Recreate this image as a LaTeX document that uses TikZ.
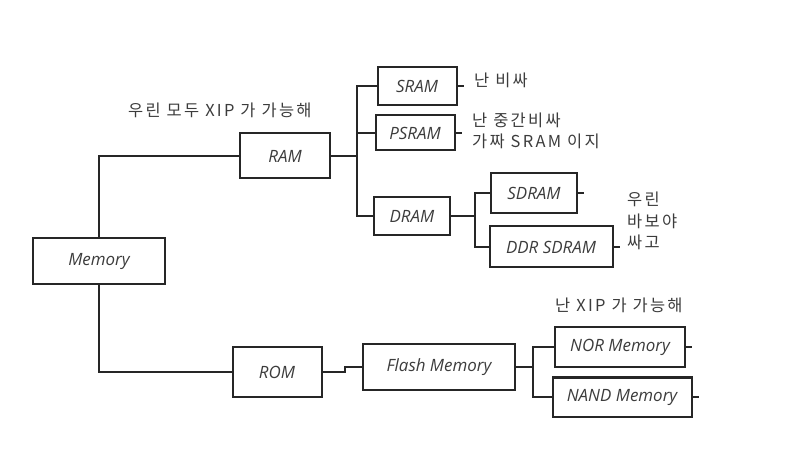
\documentclass[tikz,border=0pt]{standalone}
\usepackage{fontspec}
\setmainfont{Open Sans}
\newfontfamily\krfont{Noto Sans CJK KR}[LetterSpace=14]
\definecolor{ink}{HTML}{262626}
\definecolor{pencil}{HTML}{3C3C3C}

\tikzset{
  memblock/.style={draw=ink, line width=2bp, inner sep=0pt, text=pencil,
    font=\fontsize{17}{20}\selectfont\itshape},
  wire/.style={draw=ink, line width=2bp},
  note/.style={anchor=west, inner sep=0pt, text=pencil, align=left,
    font=\krfont\fontsize{16.5}{21.5}\selectfont}
}

\begin{document}
\begin{tikzpicture}[x=1bp, y=-1bp]
  \useasboundingbox (0,0) rectangle (804,476);

  % Memory tree boxes
  \node[memblock, minimum width=132bp, minimum height=46bp] (mem) at (99,261) {Memory};
  \node[memblock, minimum width=90bp, minimum height=45bp] (ram) at (285,156) {RAM};
  \node[memblock, minimum width=89bp, minimum height=49bp] (rom) at (277,372) {ROM};

  \node[memblock, minimum width=79bp, minimum height=38bp] (sram) at (417,86) {SRAM};
  \node[memblock, minimum width=79bp, minimum height=35bp] (psram) at (415,133) {PSRAM};
  \node[memblock, minimum width=76bp, minimum height=38bp] (dram) at (412,216) {DRAM};

  \node[memblock, minimum width=86bp, minimum height=40bp] (sdram) at (534,193) {SDRAM};
  \node[memblock, minimum width=123bp, minimum height=41bp] (ddr) at (551,247) {DDR SDRAM};

  \node[memblock, minimum width=152bp, minimum height=45bp] (flash) at (439,367) {Flash Memory};
  \node[memblock, minimum width=130bp, minimum height=40bp] (nor) at (620,347) {NOR Memory};
  \node[memblock, minimum width=139bp, minimum height=39bp] (nand) at (622,397) {NAND Memory};

  % branch points
  \coordinate (ramjoin) at (357,156);
  \coordinate (dramjoin) at (475,216);
  \coordinate (flashjoin) at (533,367);
  \coordinate (romstep) at (345,372);

  % connectors
  \draw[wire] (mem.north) |- (ram.west);
  \draw[wire] (mem.south) |- (rom.west);

  \draw[wire] (ram.east) -- (ramjoin);
  \draw[wire] (sram.west) -| (ramjoin) |- (dram.west);
  \draw[wire] (psram.west) -- (psram.west -| ramjoin);

  \draw[wire] (dram.east) -- (dramjoin);
  \draw[wire] (sdram.west) -| (dramjoin) |- (ddr.west);

  \draw[wire] (rom.east) -- (romstep) |- (flash.west);

  \draw[wire] (flash.east) -- (flashjoin);
  \draw[wire] (nor.west) -| (flashjoin) |- (nand.west);

  % little ticks toward the notes
  \foreach \b in {sram, psram, sdram, ddr, nor, nand}
    \draw[wire] (\b.east) -- ++(6,0);

  % notes
  \node[note] (ramnote) at (128,110) {우린 모두 XIP 가 가능해};
  \node[note] (sramnote) at (474,80) {난 비싸};
  \node[note] (psramnote) at (472,131) {난 중간비싸\\가짜 SRAM 이지};
  \node[note] (dramnote) at (627,221) {우린\\바보야\\싸고};
  \node[note] (nornote) at (555,305) {난 XIP 가 가능해};
\end{tikzpicture}
\end{document}
